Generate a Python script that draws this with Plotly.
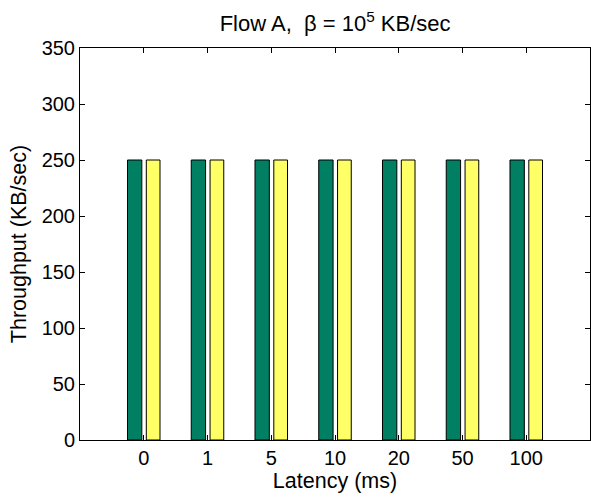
import plotly.graph_objects as go

# Latency categories and measured throughput for Flow A
latency_labels = ["0", "1", "5", "10", "20", "50", "100"]
positions = [1, 2, 3, 4, 5, 6, 7]
throughput_series1 = [250, 250, 250, 250, 250, 250, 250]
throughput_series2 = [250, 250, 250, 250, 250, 250, 250]
y_ticks = [0, 50, 100, 150, 200, 250, 300, 350]

font_family = "Liberation Sans, Arial, sans-serif"
label_font = dict(family=font_family, size=21.5, color="black")

fig = go.Figure()
fig.add_trace(go.Bar(
    x=positions, y=throughput_series1, width=0.225, offset=-0.255,
    marker=dict(color="#007F63", line=dict(color="black", width=1)),
    showlegend=False,
))
fig.add_trace(go.Bar(
    x=positions, y=throughput_series2, width=0.215, offset=0.04,
    marker=dict(color="#FFFF66", line=dict(color="black", width=1)),
    showlegend=False,
))

fig.update_layout(
    width=591, height=497,
    margin=dict(l=80, r=1, t=48, b=57),
    paper_bgcolor="white", plot_bgcolor="white",
    font=dict(family=font_family, size=20, color="black"),
    title=dict(text="Flow A,&nbsp; \u03b2 = 10<sup>5</sup> KB/sec",
               x=0.567, xanchor="center", y=0.953, yanchor="middle",
               font=dict(family=font_family, size=22, color="black")),
    xaxis=dict(
        range=[0, 8], tickvals=positions, ticktext=latency_labels,
        ticks="inside", ticklen=5, tickcolor="black", tickwidth=1,
        showline=True, linecolor="black", linewidth=1, mirror="ticks",
        showgrid=False, zeroline=False,
        title=dict(text="Latency (ms)", standoff=0, font=label_font),
    ),
    yaxis=dict(
        range=[0, 350], tickvals=y_ticks,
        ticks="inside", ticklen=5, tickcolor="black", tickwidth=1,
        showline=True, linecolor="black", linewidth=1, mirror="ticks",
        showgrid=False, zeroline=False,
        title=dict(text="Throughput (KB/sec)", standoff=9, font=label_font),
    ),
)

fig.write_html("out.html")
